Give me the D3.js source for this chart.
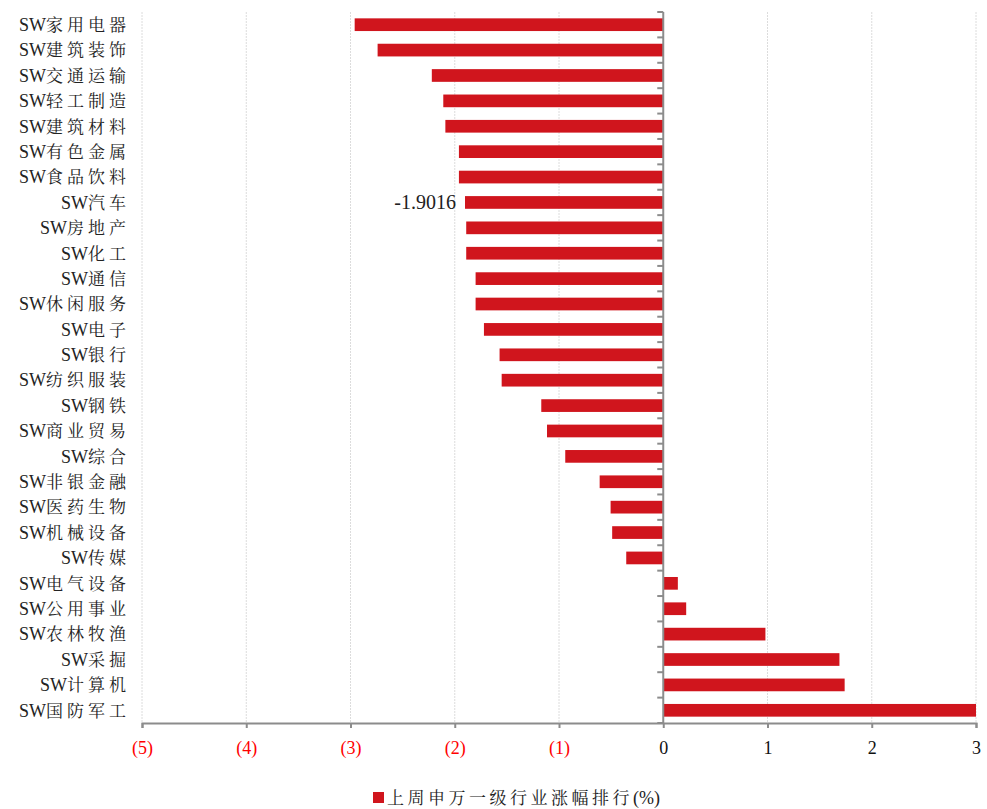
<!DOCTYPE html>
<html>
<head>
<meta charset="utf-8">
<script src="https://cdn.jsdelivr.net/npm/d3@7"></script>
<style>
  body { margin: 0; background: #fff; }
  text { font-family: "Liberation Serif", "Noto Sans CJK SC", serif; }
</style>
</head>
<body>
<script>
// industry names (without the "SW" prefix) and last week's change in %
var industries = ["家用电器", "建筑装饰", "交通运输", "轻工制造", "建筑材料", "有色金属", "食品饮料",
                  "汽车", "房地产", "化工", "通信", "休闲服务", "电子", "银行", "纺织服装", "钢铁",
                  "商业贸易", "综合", "非银金融", "医药生物", "机械设备", "传媒", "电气设备",
                  "公用事业", "农林牧渔", "采掘", "计算机", "国防军工"];
var changes = [-2.96, -2.74, -2.22, -2.11, -2.09, -1.96, -1.96,
               -1.9016, -1.89, -1.89, -1.80, -1.80, -1.72, -1.57, -1.55, -1.17,
               -1.115, -0.94, -0.61, -0.505, -0.49, -0.355, 0.14,
               0.22, 0.98, 1.69, 1.74, 3.0];
var xTicks = [-5, -4, -3, -2, -1, 0, 1, 2, 3];
var labelled = "汽车"; // the one bar carrying a data label
var legendName = "上周申万一级行业涨幅排行";
var legendUnit = "(%)";

var data = industries.map(function(n, i) { return {name: n, value: changes[i]}; });

var W = 987, H = 809;
// note: "top" is reserved on window, so use a plot object
var plot = {left: 142, right: 976, top: 12, bottom: 723};
var barColor = "#d0151d", axisColor = "#8c8c8c";

var svg = d3.select("body").append("svg")
            .attr("width", W)
            .attr("height", H);

var x = d3.scaleLinear().domain([-5, 3]).range([plot.left, plot.right]);
var y = d3.scaleBand()
          .domain(industries)
          .range([plot.top, plot.bottom])
          .paddingInner(0.5)
          .paddingOuter(0.25);

// vertical gridlines
svg.append("g")
   .selectAll("line")
   .data(xTicks.filter(function(t) { return t != 0; }))
   .enter().append("line")
   .attr("x1", function(d) { return x(d); })
   .attr("x2", function(d) { return x(d); })
   .attr("y1", plot.top)
   .attr("y2", plot.bottom)
   .attr("stroke", "#dcdcdc")
   .attr("stroke-width", 1)
   .attr("stroke-dasharray", "2,1");

// bars
svg.append("g")
   .selectAll("rect")
   .data(data)
   .enter().append("rect")
   .attr("x", function(d) { return x(Math.min(0, d.value)); })
   .attr("y", function(d) { return y(d.name); })
   .attr("width", function(d) { return Math.abs(x(d.value) - x(0)); })
   .attr("height", y.bandwidth())
   .attr("fill", barColor);

// data label
var lab = data.filter(function(d) { return d.name == labelled; })[0];
svg.append("text")
   .attr("x", x(lab.value) - 9)
   .attr("y", y(lab.name) + y.bandwidth() / 2)
   .attr("dy", "0.35em")
   .attr("text-anchor", "end")
   .style("font-size", "20px")
   .attr("fill", "#222")
   .text(lab.value.toFixed(4));

// x axis
var xAxis = svg.append("g")
               .attr("transform", "translate(0," + plot.bottom + ")")
               .call(d3.axisBottom(x).tickValues(xTicks).tickSize(5).tickPadding(13)
                       .tickFormat(function(d) { return d < 0 ? "(" + (-d) + ")" : d; }));
xAxis.select(".domain").attr("stroke", axisColor).attr("stroke-width", 2);
xAxis.selectAll(".tick line").attr("stroke", axisColor).attr("stroke-width", 2);
xAxis.selectAll(".tick text")
     .style("font-size", "18px")
     .style("font-family", "Liberation Serif")
     .attr("fill", function(d) { return d < 0 ? "#ff0000" : "#111"; });

// y axis along zero, ticks between categories
var step = y.step();
var yAxis = svg.append("g");
yAxis.append("line")
     .attr("x1", x(0)).attr("x2", x(0))
     .attr("y1", plot.top).attr("y2", plot.bottom)
     .attr("stroke", axisColor).attr("stroke-width", 2);
yAxis.selectAll(".yt")
     .data(d3.range(industries.length + 1))
     .enter().append("line")
     .attr("class", "yt")
     .attr("x1", x(0) - 6).attr("x2", x(0))
     .attr("y1", function(i) { return plot.top + i * step; })
     .attr("y2", function(i) { return plot.top + i * step; })
     .attr("stroke", axisColor).attr("stroke-width", 2);

// category labels
var labels = svg.append("g")
                .selectAll("text")
                .data(industries)
                .enter().append("text")
                .attr("x", 130)
                .attr("y", function(d) { return y(d) + y.bandwidth() / 2; })
                .attr("dy", "0.35em")
                .attr("text-anchor", "end")
                .style("font-size", "18px")
                .attr("fill", "#222");
labels.append("tspan").style("font-family", "Liberation Serif").text("SW");
labels.append("tspan")
      .style("font-family", "'Noto Serif CJK SC', 'Noto Sans CJK SC'")
      .style("font-size", "17px")
      .style("letter-spacing", "4px")
      .text(function(d) { return d; });

// legend
var lg = svg.append("g").attr("transform", "translate(373,792)");
lg.append("rect").attr("width", 11).attr("height", 11).attr("fill", barColor);
var lgText = lg.append("text")
               .attr("x", 14).attr("y", 6).attr("dy", "0.35em")
               .style("font-size", "17px")
               .attr("fill", "#222");
lgText.append("tspan")
      .style("font-family", "'Noto Serif CJK SC', 'Noto Sans CJK SC'")
      .style("letter-spacing", "3.5px")
      .text(legendName);
lgText.append("tspan")
      .style("font-family", "Liberation Serif")
      .style("font-size", "18px")
      .text(legendUnit);
</script>
</body>
</html>
